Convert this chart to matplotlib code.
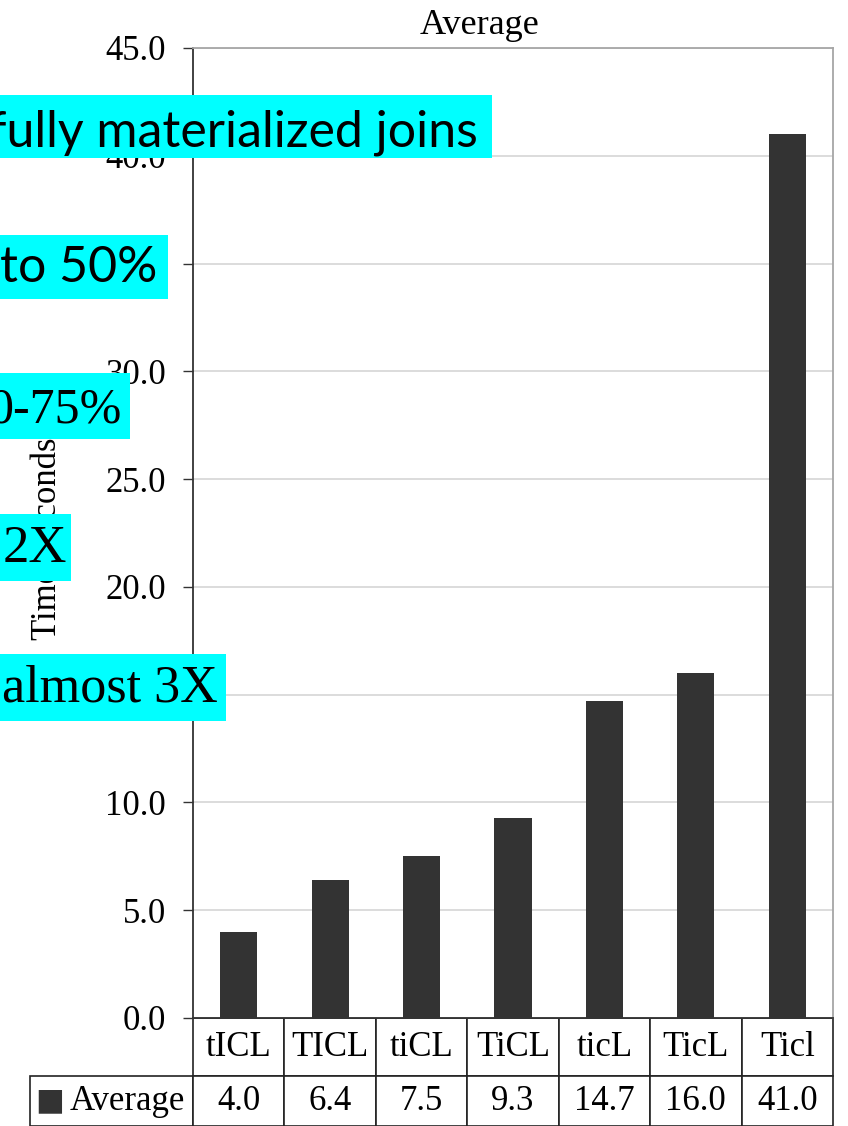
import matplotlib
matplotlib.use("Agg")
import matplotlib.pyplot as plt
from matplotlib.patches import Rectangle
import numpy as np

# ---- data ----
categories = ["tICL", "TICL", "tiCL", "TiCL", "ticL", "TicL", "Ticl"]
averages = [4.0, 6.4, 7.5, 9.3, 14.7, 16.0, 41.0]
series_name = "Average"
y_ticks = [0, 5, 10, 15, 20, 25, 30, 35, 40, 45]
overlay_notes = ["fully materialized joins", "to 50%", "0-75%", "2X", "almost 3X"]

W, H = 848, 1126
plt.rcParams['font.family'] = ['Liberation Serif', 'DejaVu Serif']

fig = plt.figure(figsize=(W / 100, H / 100), dpi=100)
ax = fig.add_axes([193 / W, 1 - 1018 / H, 640 / W, 970 / H])

x = np.arange(len(categories))
ax.bar(x, averages, width=0.405, color='#333333', zorder=3)
ax.set_xlim(-0.5, len(categories) - 0.5)
ax.set_ylim(0, 45)
ax.set_yticks(y_ticks)
ax.set_yticklabels([f"{v:.1f}" for v in y_ticks])
ax.set_xticks([])
ax.tick_params(axis='y', length=7.5, width=1.0, pad=12, labelsize=25, direction='out', color='#333333')
ax.yaxis.grid(True, color='#d9d9d9', lw=1.3)
ax.set_axisbelow(True)
for s in ['top', 'right']:
    ax.spines[s].set_color('#a6a6a6')
    ax.spines[s].set_linewidth(1.3)
for s in ['left', 'bottom']:
    ax.spines[s].set_color('#333333')
    ax.spines[s].set_linewidth(1.3)

ax.set_ylabel('Time (seconds)', fontsize=25)
ax.yaxis.set_label_coords((64 - 193) / 640, 0.5)

fig.text(480 / W, 1 - 25 / H, series_name, ha='center', va='center', fontsize=26)

# ---- data table ----
row_w = 163 / 640
tbl = ax.table(cellText=[[f"{v:.1f}" for v in averages]],
               rowLabels=[series_name],
               colLabels=categories,
               cellLoc='center', rowLoc='right', colLoc='center',
               bbox=[0, -108 / 970, 1, 108 / 970])
tbl.auto_set_font_size(False)
tbl.set_fontsize(25)
tbl._autoColumns = []  # keep the fixed row-label column width
for (r, c), cell in tbl.get_celld().items():
    cell.set_width(row_w if c == -1 else 1 / 7)
    cell.set_height((58 if r == 0 else 50) / 970)
    cell.set_linewidth(1.2)
    cell.set_edgecolor('#222222')
    cell.get_text().set_fontfamily(['Liberation Serif', 'DejaVu Sans'])
    if c == -1:
        cell.PAD = 0.05
# legend swatch in the row label cell
fig.text(35 / W, 1 - 1101 / H, "\u25A0", ha='left', va='center', fontsize=22,
         family='DejaVu Sans', color='#333333')

# ---- cyan overlay callouts ----
boxes = [  # (x0, x1, y0, y1, text_right, baseline, family, size)
    (0, 492, 95, 158, 478, 146, ['Lato', 'DejaVu Sans'], 36),
    (0, 168, 235, 299, 157, 282, ['Lato', 'DejaVu Sans'], 36),
    (0, 130, 373, 439, 122, 422, ['Liberation Serif'], 36),
    (0, 71, 514, 581, 67, 562, ['Liberation Serif'], 38),
    (0, 226, 654, 721, 218, 702, ['Liberation Serif'], 37.5),
]
for (x0, x1, y0, y1, xr, yb, fam, fs), txt in zip(boxes, overlay_notes):
    fig.add_artist(Rectangle((x0 / W, 1 - y1 / H), (x1 - x0) / W, (y1 - y0) / H,
                             transform=fig.transFigure, facecolor='#00FFFF',
                             edgecolor='none', zorder=10))
    fig.text(xr / W, 1 - yb / H, txt, ha='right', va='baseline', fontsize=fs,
             family=fam, color='black', zorder=11)

fig.savefig('out.png', dpi=100)
